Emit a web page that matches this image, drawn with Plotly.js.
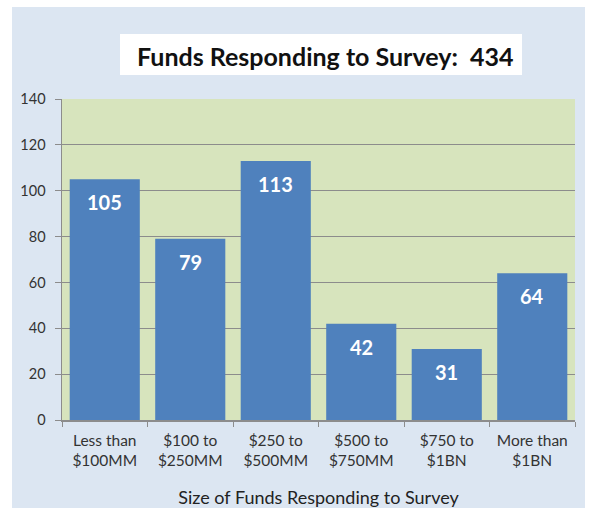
<!DOCTYPE html>
<html><head><meta charset="utf-8">
<script src="https://cdn.plot.ly/plotly-3.0.1.min.js"></script>
<style>html,body{margin:0;padding:0;background:#fff}#c{width:589px;height:508px}</style>
</head><body><div id="c"></div>
<script>
const categories = ["Less than<br>$100MM", "$100 to<br>$250MM", "$250 to<br>$500MM", "$500 to<br>$750MM", "$750 to<br>$1BN", "More than<br>$1BN"];
const counts = [105, 79, 113, 42, 31, 64];
const yTicks = [0, 20, 40, 60, 80, 100, 120, 140];
const chartTitle = "Funds Responding to Survey:  434";
const xTitle = "Size of Funds Responding to Survey";

const FONT = "Lato, 'Open Sans', sans-serif";
const trace = {
  type: "bar",
  x: categories,
  y: counts,
  marker: {color: "#4f81bd", line: {width: 0}},
  hoverinfo: "none"
};
const valueLabels = categories.map((c, i) => ({
  x: c, y: counts[i], xref: "x", yref: "y",
  text: "<b>" + counts[i] + "</b>", showarrow: false,
  yanchor: "middle", yshift: -23,
  font: {family: FONT, size: 20, color: "#ffffff"}
}));
const layout = {
  width: 589, height: 508,
  margin: {l: 62, r: 14, t: 99, b: 88},
  paper_bgcolor: "#dce6f2",
  plot_bgcolor: "#d7e4bd",
  bargap: 0.18,
  showlegend: false,
  font: {family: FONT, color: "#333333"},
  xaxis: {
    type: "category",
    showline: true, linecolor: "#8c8c8c", linewidth: 1.5,
    ticks: "outside", tickson: "boundaries", ticklen: 5, tickcolor: "#8c8c8c",
    tickfont: {family: FONT, size: 15.5, color: "#333333"},
    ticklabelstandoff: 6,
    title: {text: xTitle, font: {family: FONT, size: 18, color: "#222222"}, standoff: 24},
    showgrid: false
  },
  yaxis: {
    range: [0, 140], tickvals: yTicks, ticktext: yTicks.map(String),
    showline: true, linecolor: "#8c8c8c", linewidth: 1.5,
    ticks: "outside", ticklen: 6, tickcolor: "#8c8c8c",
    ticklabelstandoff: 6,
    showgrid: true, gridcolor: "#8c8c8c", gridwidth: 1.2,
    zeroline: false,
    tickfont: {family: FONT, size: 14.5, color: "#333333"}
  },
  shapes: [
    {type: "rect", xref: "paper", yref: "paper", layer: "below",
     x0: -0.2, x1: -0.0975, y0: -0.4, y1: 1.4, fillcolor: "#ffffff", line: {width: 0}},
    {type: "rect", xref: "paper", yref: "paper", layer: "below",
     x0: 1.0195, x1: 1.2, y0: -0.4, y1: 1.4, fillcolor: "#ffffff", line: {width: 0}},
    {type: "rect", xref: "paper", yref: "paper", layer: "below",
     x0: -0.2, x1: 1.2, y0: 1.2866, y1: 1.4, fillcolor: "#ffffff", line: {width: 0}},
    {type: "rect", xref: "paper", yref: "paper", layer: "below",
     x0: 0.1131, x1: 0.8967, y0: 1.0748, y1: 1.2025, fillcolor: "#ffffff", line: {width: 0}}
  ],
  annotations: [{
    xref: "paper", yref: "paper", x: 0.5136, y: 1.1355, xanchor: "center", yanchor: "middle",
    text: "<b>" + chartTitle + "</b>", showarrow: false,
    font: {family: FONT, size: 25, color: "#111111"}
  }].concat(valueLabels)
};
Plotly.newPlot("c", [trace], layout, {displayModeBar: false, staticPlot: true});
</script></body></html>
